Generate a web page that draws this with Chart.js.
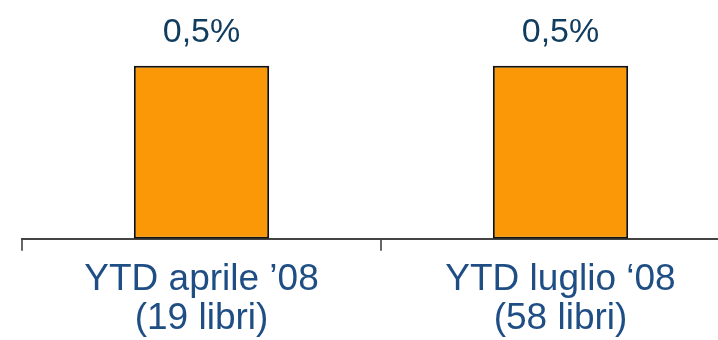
<!DOCTYPE html>
<html>
<head>
<meta charset="utf-8">
<script src="https://cdn.jsdelivr.net/npm/chart.js@4/dist/chart.umd.min.js"></script>
<style>
  html, body { margin: 0; padding: 0; background: #fff; overflow: hidden; }
  #wrap { width: 740px; height: 348px; }
</style>
</head>
<body>
<div id="wrap"><canvas id="chart" width="740" height="348"></canvas></div>
<script>
// Chart data
const categories = [
    ['YTD aprile \u201908', '(19 libri)'],
    ['YTD luglio \u201808', '(58 libri)']
];
const values = [0.5, 0.5];
const valueLabels = ['0,5%', '0,5%'];

// Draw the value above each bar
const valueLabelPlugin = {
    id: 'valueLabels',
    afterDatasetsDraw(chart) {
        const ctx = chart.ctx;
        const meta = chart.getDatasetMeta(0);
        ctx.save();
        ctx.font = '34px "Liberation Sans", Arial, sans-serif';
        ctx.fillStyle = '#103c5e';
        ctx.textAlign = 'center';
        ctx.textBaseline = 'alphabetic';
        meta.data.forEach((bar, i) => {
            ctx.fillText(valueLabels[i], bar.x, bar.y - 24);
        });
        ctx.restore();
    }
};

new Chart(document.getElementById('chart'), {
    type: 'bar',
    data: {
        labels: categories,
        datasets: [{
            data: values,
            backgroundColor: '#fa9807',
            borderColor: '#111',
            borderWidth: 2,
            borderSkipped: false,
            barPercentage: 0.377,
            categoryPercentage: 1
        }]
    },
    options: {
        responsive: false,
        animation: false,
        layout: { padding: { left: 22, right: 0, top: 0, bottom: 0 } },
        plugins: {
            legend: { display: false },
            tooltip: { enabled: false }
        },
        scales: {
            y: {
                display: false,
                min: 0,
                max: 0.69
            },
            x: {
                grid: {
                    drawOnChartArea: false,
                    drawTicks: true,
                    tickLength: 12,
                    color: '#666',
                    lineWidth: 2
                },
                border: {
                    display: true,
                    color: '#444',
                    width: 2
                },
                ticks: {
                    color: '#1f4e85',
                    padding: 9,
                    maxRotation: 0,
                    autoSkip: false,
                    font: {
                        family: '"Liberation Sans", Arial, sans-serif',
                        size: 37,
                        lineHeight: 1.07
                    }
                }
            }
        }
    },
    plugins: [valueLabelPlugin]
});
</script>
</body>
</html>
